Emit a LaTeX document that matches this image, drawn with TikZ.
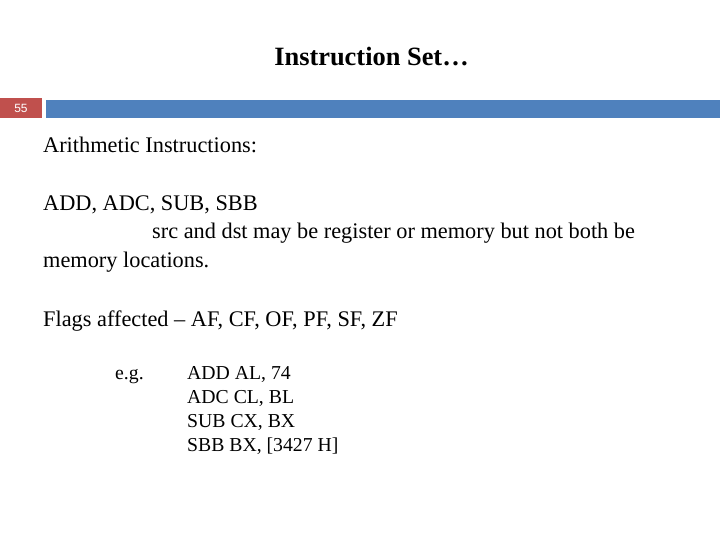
\documentclass[tikz,border=0pt]{standalone}
\usepackage{fontspec}
\setmainfont{Liberation Serif}
\newfontfamily\sansf{Liberation Sans}
\definecolor{barred}{HTML}{C0504D}
\definecolor{barblue}{HTML}{4F81BD}
\begin{document}
\begin{tikzpicture}[x=1bp,y=-1bp,
  body/.style={anchor=base west,inner sep=0,font=\fontsize{22.4}{26}\selectfont},
  ex/.style={anchor=base west,inner sep=0,font=\fontsize{19.8}{22}\selectfont}]
\useasboundingbox[fill=white] (0,0) rectangle (720,540);
\node[anchor=base,inner sep=0,font=\fontsize{26.5}{30}\selectfont\bfseries] (title) at (371.5,66) {Instruction Set…};
\fill[barred] (0,98) rectangle (42,118);
\node[text=white,font=\sansf\fontsize{12}{12}\selectfont] (num) at (21,108) {55};
\fill[barblue] (46,100) rectangle (720,118);
\node[body] (h) at (43,153) {Arithmetic Instructions:};
\node[body] (l1) at (43,211) {ADD, ADC, SUB, SBB};
\node[body] (l2) at (152,239) {src and dst may be register or memory but not both be};
\node[body] (l3) at (43,268) {memory locations.};
\node[body] (fl) at (43,326) {Flags affected – AF, CF, OF, PF, SF, ZF};
\node[ex] (eg) at (115,379) {e.g.};
\node[ex] (e1) at (187,379) {ADD AL, 74};
\node[ex] (e2) at (187,403) {ADC CL, BL};
\node[ex] (e3) at (187,427) {SUB CX, BX};
\node[ex] (e4) at (187,451) {SBB BX, [3427 H]};
\end{tikzpicture}
\end{document}
